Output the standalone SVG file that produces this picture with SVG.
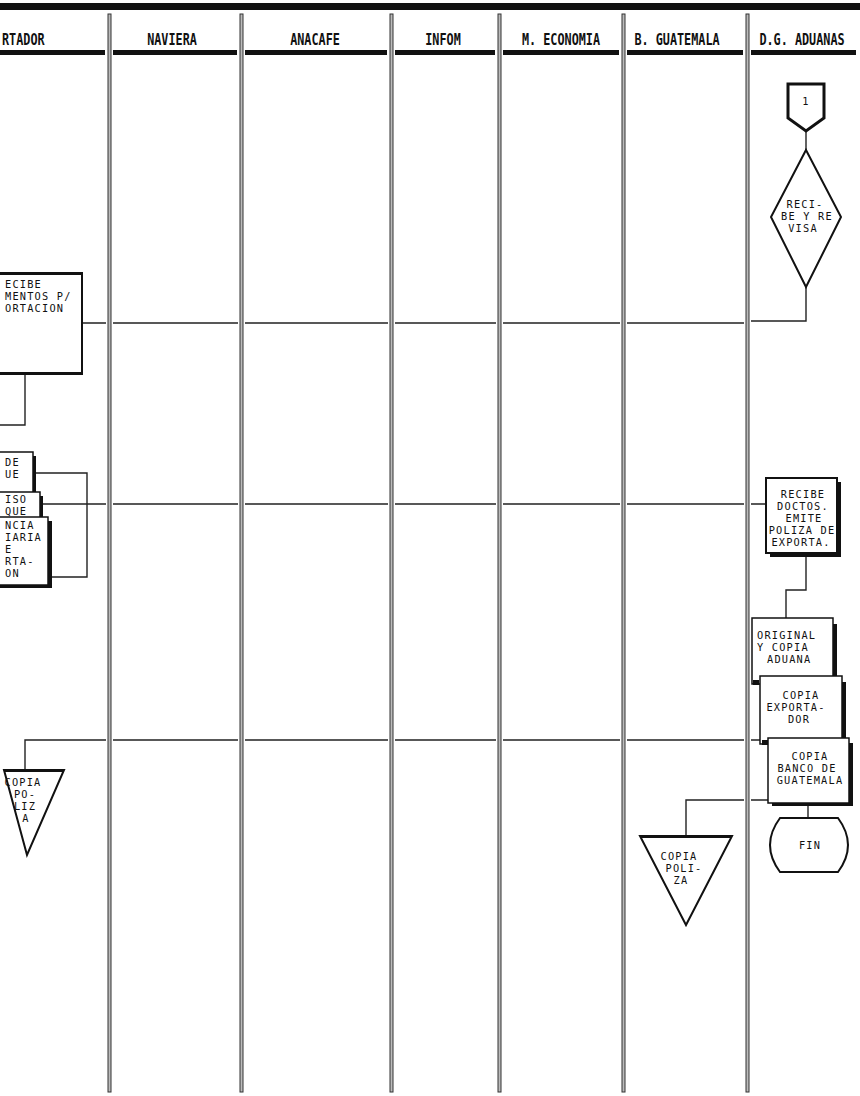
<svg xmlns="http://www.w3.org/2000/svg" width="860" height="1096" viewBox="0 0 860 1096">
<style>
 .t{font-family:"DejaVu Sans Mono","Liberation Mono",monospace;font-size:10.3px;letter-spacing:1.2px;fill:#111}
 .m{text-anchor:middle}
 .h{font-family:"DejaVu Sans Mono","Liberation Mono",monospace;font-size:11.8px;font-weight:bold;fill:#111;text-anchor:middle}
 .box{fill:#fff;stroke:#111;stroke-width:2}
 .thin{fill:#fff;stroke:#111;stroke-width:1.5}
 .c{fill:none;stroke:#222;stroke-width:1.4}
 .sh{fill:#111}
 .div{fill:#bbb;stroke:#333;stroke-width:1}
</style>
<rect width="860" height="1096" fill="#fff"/>
<g id="frame">
 <rect x="0" y="3" width="860" height="7" fill="#111"/>
 <rect class="sh" x="0" y="50" width="105" height="5"/>
 <rect class="sh" x="113" y="50" width="124" height="5"/>
 <rect class="sh" x="245" y="50" width="142" height="5"/>
 <rect class="sh" x="395" y="50" width="100" height="5"/>
 <rect class="sh" x="503" y="50" width="116" height="5"/>
 <rect class="sh" x="627" y="50" width="116" height="5"/>
 <rect class="sh" x="751" y="50" width="105" height="5"/>
 <rect class="div" x="108" y="14" width="3" height="1078"/>
 <rect class="div" x="240" y="14" width="3" height="1078"/>
 <rect class="div" x="390" y="14" width="3" height="1078"/>
 <rect class="div" x="498" y="14" width="3" height="1078"/>
 <rect class="div" x="622" y="14" width="3" height="1078"/>
 <rect class="div" x="746" y="14" width="3" height="1078"/>
 <g transform="translate(0,45) scale(1,1.3)">
  <text class="h" x="2" y="0" style="text-anchor:start">RTADOR</text>
  <text class="h" x="172" y="0">NAVIERA</text>
  <text class="h" x="315" y="0">ANACAFE</text>
  <text class="h" x="443" y="0">INFOM</text>
  <text class="h" x="561" y="0">M. ECONOMIA</text>
  <text class="h" x="677" y="0">B. GUATEMALA</text>
  <text class="h" x="802" y="0">D.G. ADUANAS</text>
 </g>
</g>
<g id="connectors">
 <path class="c" d="M806,131 V150"/>
 <path class="c" d="M806,287 V321 H751"/>
 <path class="c" d="M82,323 H106 M113,323 H238 M245,323 H388 M395,323 H496 M503,323 H620 M627,323 H744"/>
 <path class="c" d="M25,375 V425 H0"/>
 <path class="c" d="M36,473 H87 V577 H52"/>
 <path class="c" d="M43,504 H106 M113,504 H238 M245,504 H388 M395,504 H496 M503,504 H620 M627,504 H744 M751,504 H766"/>
 <path class="c" d="M806,556 V590 H786 V618"/>
 <path class="c" d="M25,770 V740 H106 M113,740 H238 M245,740 H388 M395,740 H496 M503,740 H620 M627,740 H744 M751,740 H761"/>
 <path class="c" d="M686,836 V800 H744 M751,800 H768"/>
 <path class="c" d="M808,805 V818"/>
</g>
<g id="n-recibe-docs">
 <rect class="box" x="-3" y="273" width="85" height="101"/>
 <rect class="sh" x="0" y="272" width="83" height="3"/>
 <rect class="sh" x="0" y="372" width="83" height="3"/>
 <text class="t" x="5" y="288">ECIBE</text>
 <text class="t" x="5" y="300">MENTOS P/</text>
 <text class="t" x="5" y="312">ORTACION</text>
</g>
<g id="n-doc1">
 <rect class="thin" x="-3" y="452" width="36" height="42"/>
 <rect class="sh" x="33" y="456" width="3" height="38"/>
 <text class="t" x="5" y="466">DE</text>
 <text class="t" x="5" y="478">UE</text>
</g>
<g id="n-doc2">
 <rect class="thin" x="-3" y="492" width="43" height="27"/>
 <rect class="sh" x="40" y="496" width="3" height="23"/>
 <text class="t" x="5" y="503">ISO</text>
 <text class="t" x="5" y="515">QUE</text>
</g>
<g id="n-doc3">
 <rect class="thin" x="-3" y="517" width="51" height="68"/>
 <rect class="sh" x="48" y="521" width="4" height="66"/>
 <rect class="sh" x="0" y="585" width="52" height="3"/>
 <text class="t" x="5" y="529">NCIA</text>
 <text class="t" x="5" y="541">IARIA</text>
 <text class="t" x="5" y="553">E</text>
 <text class="t" x="5" y="565">RTA-</text>
 <text class="t" x="5" y="577">ON</text>
</g>
<g id="n-copia-poliza-exp">
 <polygon class="box" points="4,770 64,770 27,855"/>
 <rect class="sh" x="4" y="769" width="60" height="3"/>
 <text class="t m" x="23" y="786">COPIA</text>
 <text class="t m" x="25" y="798">PO-</text>
 <text class="t m" x="25" y="810">LIZ</text>
 <text class="t m" x="26" y="822">A</text>
</g>
<g id="n-conector-1">
 <path class="box" style="stroke-width:3" d="M788,84 H824 V118 L806,131 L788,118 Z"/>
 <text class="t m" x="806" y="105">1</text>
</g>
<g id="n-recibe-revisa">
 <polygon class="box" points="806,150 841,217 806,287 771,217"/>
 <text class="t m" x="805" y="208">RECI-</text>
 <text class="t m" x="807" y="220">BE Y RE</text>
 <text class="t m" x="803" y="232">VISA</text>
</g>
<g id="n-recibe-doctos">
 <rect class="box" x="766" y="478" width="71" height="75"/>
 <rect class="sh" x="837" y="482" width="4" height="75"/>
 <rect class="sh" x="770" y="553" width="71" height="4"/>
 <text class="t m" x="803" y="498">RECIBE</text>
 <text class="t m" x="803" y="510">DOCTOS.</text>
 <text class="t m" x="804" y="522">EMITE</text>
 <text class="t m" x="802" y="534">POLIZA DE</text>
 <text class="t m" x="801" y="546">EXPORTA.</text>
</g>
<g id="n-original">
 <rect class="thin" x="752" y="618" width="81" height="66"/>
 <rect class="sh" x="833" y="624" width="4" height="60"/>
 <rect class="sh" x="753" y="680" width="6" height="5"/>
 <text class="t" x="757" y="639">ORIGINAL</text>
 <text class="t" x="757" y="651">Y COPIA</text>
 <text class="t" x="767" y="663">ADUANA</text>
</g>
<g id="n-copia-exportador">
 <rect class="thin" x="760" y="676" width="82" height="68"/>
 <rect class="sh" x="842" y="682" width="4" height="62"/>
 <rect class="sh" x="762" y="740" width="6" height="5"/>
 <text class="t m" x="801" y="699">COPIA</text>
 <text class="t m" x="796" y="711">EXPORTA-</text>
 <text class="t m" x="799" y="723">DOR</text>
</g>
<g id="n-copia-banco">
 <rect class="thin" x="768" y="738" width="81" height="65"/>
 <rect class="sh" x="849" y="743" width="4" height="62"/>
 <rect class="sh" x="772" y="803" width="81" height="3"/>
 <text class="t m" x="810" y="760">COPIA</text>
 <text class="t m" x="807" y="772">BANCO DE</text>
 <text class="t m" x="810" y="784">GUATEMALA</text>
</g>
<g id="n-copia-poliza-banguat">
 <polygon class="box" points="640,836 732,836 686,925"/>
 <rect class="sh" x="640" y="835" width="92" height="3"/>
 <text class="t m" x="679" y="860">COPIA</text>
 <text class="t m" x="684" y="872">POLI-</text>
 <text class="t m" x="681" y="884">ZA</text>
</g>
<g id="n-fin">
 <path class="box" d="M780,818 H838 Q858,845 838,872 H780 Q760,845 780,818 Z"/>
 <text class="t m" x="810" y="849">FIN</text>
</g>
</svg>
